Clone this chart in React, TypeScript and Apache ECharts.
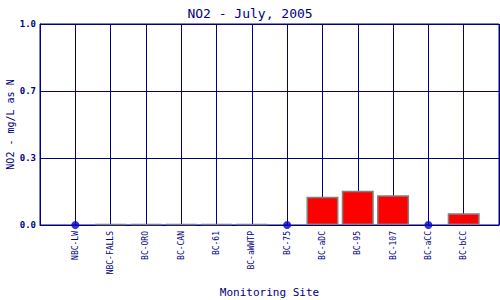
import React, { useEffect, useRef } from "react";
import * as echarts from "echarts";

const sites = ["NBC-LW", "NBC-FALLS", "BC-ORO", "BC-CAN", "BC-61", "BC-aWWTP", "BC-75", "BC-aDC", "BC-95", "BC-107", "BC-aCC", "BC-bCC"];
const no2Values: (number | null)[] = [null, 0, 0, 0, 0, 0, null, 0.14, 0.17, 0.148, null, 0.058];
const noDataSites = ["NBC-LW", "BC-75", "BC-aCC"];
const yTicks = [0, 1 / 3, 2 / 3, 1];

const NAVY = "#000080";
const FONT = "'DejaVu Sans Mono', 'Liberation Mono', monospace";

export default function App() {
  const ref = useRef<HTMLDivElement>(null);
  useEffect(() => {
    document.body.style.margin = "0";
    const chart = echarts.init(ref.current!, null, { renderer: "svg" });
    const cats = ["", ...sites, ""];
    const barData = ["-", ...no2Values.map((v) => (v === null ? "-" : v)), "-"];
    const dotData = noDataSites.map((s) => [s, 0]);
    chart.setOption({
      animation: false,
      backgroundColor: "#ffffff",
      title: {
        text: "NO2 - July, 2005",
        left: "center",
        top: 2,
        textStyle: { color: NAVY, fontFamily: FONT, fontSize: 13, fontWeight: "normal" },
      },
      grid: {
        left: 40, right: 1, top: 24, bottom: 75,
        containLabel: false, outerBoundsMode: "none",
        show: true, borderColor: NAVY, borderWidth: 1,
      },
      xAxis: {
        type: "category",
        data: cats,
        boundaryGap: false,
        name: "Monitoring Site",
        nameLocation: "middle",
        nameGap: 62,
        nameMoveOverlap: false,
        nameTextStyle: { color: NAVY, fontFamily: FONT, fontSize: 11 },
        axisLine: { lineStyle: { color: NAVY, width: 1 } },
        axisTick: { show: false },
        axisLabel: { rotate: 90, interval: 0, color: NAVY, fontFamily: FONT, fontSize: 8, margin: 6 },
        splitLine: { show: true, interval: 0, lineStyle: { color: NAVY, width: 1 } },
      },
      yAxis: {
        type: "value",
        min: 0,
        max: 1,
        interval: yTicks[1],
        name: "NO2 - mg/L as N",
        nameLocation: "middle",
        nameGap: 25,
        nameMoveOverlap: false,
        nameTextStyle: { color: NAVY, fontFamily: FONT, fontSize: 10 },
        axisLine: { show: true, lineStyle: { color: NAVY, width: 1 } },
        axisTick: { show: false },
        axisLabel: { color: NAVY, fontFamily: FONT, fontSize: 9, fontWeight: "bold", margin: 4, formatter: (v: number) => v.toFixed(1) },
        splitLine: { show: true, lineStyle: { color: NAVY, width: 1 } },
      },
      series: [
        {
          type: "bar",
          data: barData,
          barWidth: 32,
          barMinHeight: 1,
          itemStyle: { color: "#ff0000", borderColor: "#808080", borderWidth: 1.5 },
          z: 3,
        },
        {
          type: "scatter",
          data: dotData,
          symbol: "circle",
          symbolSize: 8,
          itemStyle: { color: "#0000cc" },
          z: 4,
        },
      ],
    });
    return () => chart.dispose();
  }, []);
  return <div ref={ref} style={{ width: 500, height: 300 }} />;
}
